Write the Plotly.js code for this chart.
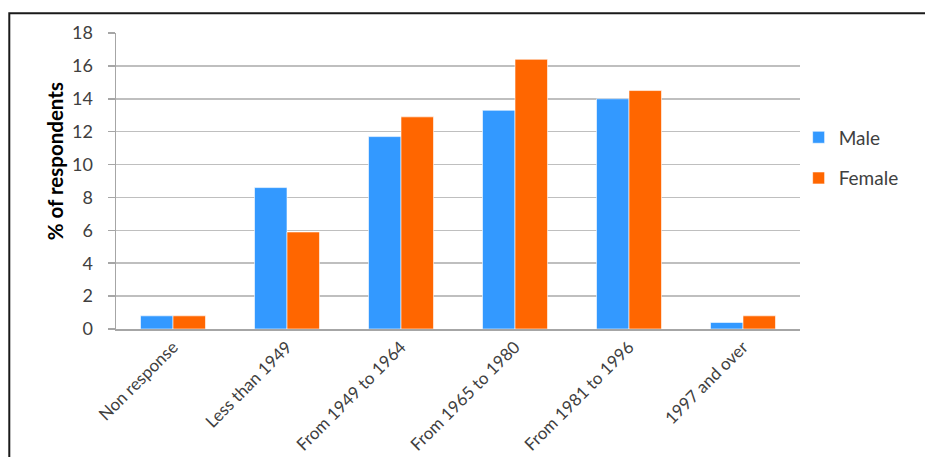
<!DOCTYPE html>
<html>
<head>
<meta charset="utf-8">
<script src="https://cdn.plot.ly/plotly-3.0.1.min.js"></script>
<style>
  html, body { margin: 0; padding: 0; background: #ffffff; }
  #chart { width: 925px; height: 457px; }
</style>
</head>
<body>
<div id="chart"></div>
<script>
// Birth-period categories and share of respondents by gender (%)
const categories = [
  "Non response",
  "Less than 1949",
  "From 1949 to 1964",
  "From 1965 to 1980",
  "From 1981 to 1996",
  "1997 and over"
];
const maleValues = [0.8, 8.6, 11.7, 13.3, 14.0, 0.4];
const femaleValues = [0.8, 5.9, 12.9, 16.4, 14.5, 0.8];
const yTickValues = [0, 2, 4, 6, 8, 10, 12, 14, 16, 18];
const yAxisTitle = "% of respondents";

const font = "Lato, 'Open Sans', 'Liberation Sans', sans-serif";

const traces = [
  {
    type: "bar",
    name: "Male",
    x: categories,
    y: maleValues,
    marker: { color: "#3399FF", line: { color: "#ffffff", width: 0.6 } },
    legendgroup: "m",
    hoverinfo: "x+y+name"
  },
  {
    type: "bar",
    name: "Female",
    x: categories,
    y: femaleValues,
    marker: { color: "#FF6600", line: { color: "#ffffff", width: 0.6 } },
    legendgroup: "f",
    hoverinfo: "x+y+name"
  }
];

const layout = {
  width: 925,
  height: 457,
  margin: { l: 116, r: 125, t: 33, b: 128 },
  paper_bgcolor: "#ffffff",
  plot_bgcolor: "#ffffff",
  font: { family: font, color: "#404040", size: 15 },
  barmode: "group",
  bargap: 0.43,
  bargroupgap: 0,
  showlegend: true,
  legend: {
    x: 0.998,
    xanchor: "left",
    y: 0.578,
    yanchor: "middle",
    traceorder: "grouped",
    tracegroupgap: 13,
    font: { family: font, size: 19, color: "#404040" },
    bgcolor: "rgba(0,0,0,0)",
    itemwidth: 30
  },
  xaxis: {
    type: "category",
    tickangle: -45,
    showgrid: false,
    showline: true,
    linecolor: "#A6A6A6",
    linewidth: 1.5,
    ticks: "",
    tickfont: { family: font, size: 17, color: "#404040" },
    automargin: false,
    fixedrange: true
  },
  yaxis: {
    range: [0, 18],
    tickvals: yTickValues,
    ticktext: yTickValues.map(String),
    showgrid: true,
    gridcolor: "#BFBFBF",
    gridwidth: 1.5,
    showline: true,
    linecolor: "#A6A6A6",
    linewidth: 1.5,
    ticks: "outside",
    ticklen: 7,
    tickcolor: "#A6A6A6",
    tickwidth: 1.5,
    ticklabelstandoff: 11,
    zeroline: false,
    tickfont: { family: font, size: 18, color: "#404040" },
    automargin: false,
    fixedrange: true
  },
  annotations: [
    {
      text: "<b>" + yAxisTitle + "</b>",
      xref: "paper",
      yref: "paper",
      x: -0.088,
      y: 0.566,
      xanchor: "center",
      yanchor: "middle",
      textangle: -90,
      showarrow: false,
      font: { family: font, size: 20.5, color: "#000000" }
    }
  ],
  shapes: [
    {
      type: "rect",
      xref: "paper",
      yref: "paper",
      x0: -0.156,
      x1: 1.3,
      y0: -0.6,
      y1: 1.067,
      line: { color: "#1a1a1a", width: 2 },
      fillcolor: "rgba(0,0,0,0)",
      layer: "above"
    }
  ]
};

Plotly.newPlot("chart", traces, layout, { displayModeBar: false, staticPlot: true });
</script>
</body>
</html>
